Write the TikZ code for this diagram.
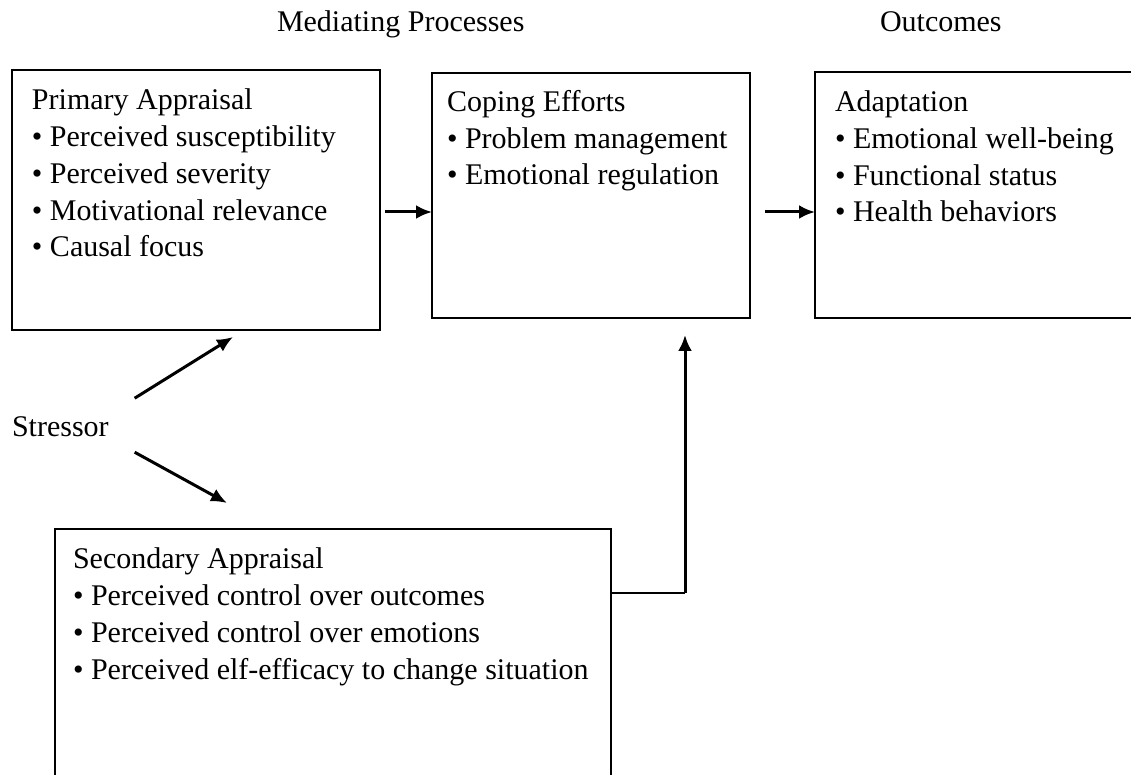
\documentclass[tikz,border=0pt]{standalone}
\usepackage{fontspec}
\setmainfont{Liberation Serif}
\usetikzlibrary{arrows.meta}

\begin{document}
\begin{tikzpicture}[x=0.5pt,y=-0.5pt,inner sep=0pt,outer sep=0pt,
box/.style={draw,rectangle,line width=0.9pt},
txt/.style={anchor=base west,align=left,font=\fontsize{15}{18.4}\selectfont},
arr/.style={-{Latex[length=8pt,width=7pt]},line width=1.5pt}]
\useasboundingbox (0,0) rectangle (1131,775);

% column titles
\draw (277,32) node[txt] (medi) {Mediating Processes};
\draw (880,32) node[txt] (outc) {Outcomes};

% boxes
\draw (196,200) node[box,minimum width=184pt,minimum height=130pt] (prim) {};
\draw (591,195.5) node[box,minimum width=159pt,minimum height=122.5pt] (cope) {};
\draw (980,195) node[box,minimum width=165pt,minimum height=123pt] (adapt) {};
\draw (333,669) node[box,minimum width=278pt,minimum height=140pt] (sec) {};

% texts (anchored at the baseline of the last line)
\draw (32,257) node[txt] (primtxt) {Primary Appraisal\\
  • Perceived susceptibility\\
  • Perceived severity\\
  • Motivational relevance\\
  • Causal focus};
\draw (447,185) node[txt] (copetxt) {Coping Efforts\\
  • Problem management\\
  • Emotional regulation};
\draw (835,222) node[txt] (adapttxt) {Adaptation\\
  • Emotional well-being\\
  • Functional status\\
  • Health behaviors};
\draw (73,679) node[txt] (sectxt) {Secondary Appraisal\\
  • Perceived control over outcomes\\
  • Perceived control over emotions\\
  • Perceived elf-efficacy to change situation};
\draw (12,437) node[txt] (stress) {Stressor};

% connectors
\coordinate (row) at (0,212);
\coordinate (bend) at (685,593);
\draw[arr] ([xshift=2.5pt]prim.east |- row) -- (cope.west |- row);
\draw[arr] ([xshift=7.5pt]cope.east |- row) -- (adapt.west |- row);
\draw[arr] ([shift={(26,-29)}]stress.east) -- ([shift={(37,7)}]prim.south);
\draw[arr] ([shift={(26,25)}]stress.east) -- ([shift={(-106,-26)}]sec.north);
\draw[line width=1pt] (sec.east |- bend) -- (bend);
\draw[arr] (bend) -- ([yshift=-8.5pt]cope.south -| bend);
\end{tikzpicture}
\end{document}
